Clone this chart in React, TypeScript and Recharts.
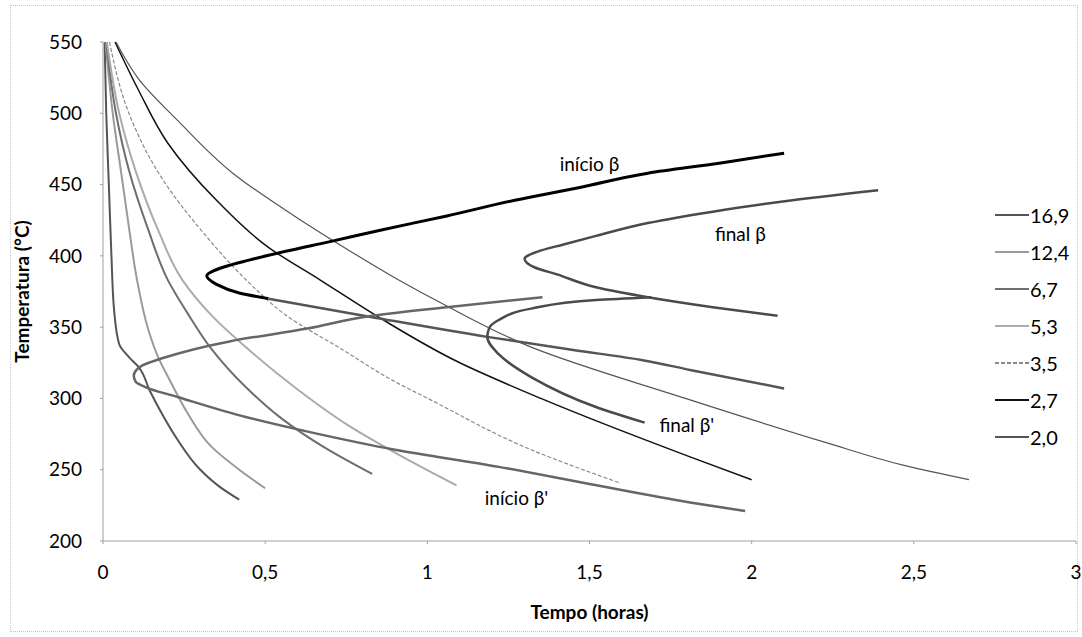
import { LineChart, Line, XAxis, YAxis, Legend, ReferenceDot } from "recharts";

// cooling curves, [time (h), temperature (°C)]
const cool169 = [[0.005, 550], [0.01, 500], [0.018, 450], [0.026, 400], [0.035, 360], [0.05, 338], [0.08, 329], [0.11, 322], [0.145, 305], [0.18, 290], [0.23, 271], [0.3, 250], [0.36, 238], [0.42, 229]];
const cool124 = [[0.008, 550], [0.03, 500], [0.055, 460], [0.08, 420], [0.105, 383], [0.14, 348], [0.17, 329], [0.21, 311], [0.26, 290], [0.335, 266], [0.42, 250], [0.5, 237]];
const cool67 = [[0.01, 550], [0.04, 500], [0.08, 460], [0.14, 418], [0.2, 383], [0.26, 360], [0.33, 336], [0.44, 308], [0.55, 286], [0.68, 266], [0.83, 247]];
const cool53 = [[0.012, 550], [0.05, 500], [0.1, 460], [0.17, 418], [0.245, 383], [0.34, 357], [0.44, 336], [0.59, 308], [0.75, 282], [0.9, 262], [1.09, 239]];
const cool35 = [[0.02, 550], [0.08, 500], [0.18, 455], [0.31, 416], [0.46, 379], [0.56, 359], [0.74, 334], [0.89, 313], [1.01, 299], [1.32, 264], [1.59, 241]];
const cool27 = [[0.037, 550], [0.11, 516], [0.2, 479], [0.35, 439], [0.51, 406], [0.67, 383], [0.85, 357], [1.1, 325], [1.35, 300], [1.81, 259], [2.0, 243]];
const cool20 = [[0.04, 550], [0.11, 524], [0.23, 495], [0.4, 458], [0.61, 425], [0.75, 405], [0.92, 382], [1.05, 366], [1.32, 336], [1.81, 299], [2.23, 269], [2.47, 253], [2.67, 243]];

// transformation curves
const inicioB = [[2.1, 472], [1.9, 465], [1.68, 458], [1.47, 448], [1.27, 439], [1.06, 428], [0.855, 418], [0.7, 410], [0.56, 403], [0.45, 397], [0.37, 392], [0.32, 386], [0.35, 380], [0.42, 374], [0.51, 370]];
const inicioBLower = [[0.51, 370], [0.83, 357], [1.19, 343], [1.45, 334], [1.66, 327], [1.81, 320], [2.1, 307]];
const finalB = [[2.39, 446], [2.09, 438], [1.88, 431], [1.68, 423], [1.52, 414], [1.42, 408], [1.34, 403], [1.3, 398], [1.33, 392], [1.4, 387], [1.52, 378], [1.68, 371], [1.88, 364], [2.08, 358]];
const finalBp = [[1.69, 371], [1.52, 369], [1.32, 363], [1.22, 355], [1.19, 349], [1.185, 343], [1.22, 331], [1.32, 315], [1.52, 294], [1.67, 283]];
const inicioBp = [[1.355, 371], [1.06, 364], [0.83, 358], [0.63, 349], [0.39, 340], [0.18, 328], [0.12, 323], [0.095, 316], [0.1, 312], [0.13, 308], [0.23, 301], [0.44, 287], [0.645, 276], [0.9, 264], [1.22, 252], [1.5, 240], [1.81, 227], [1.98, 221]];

const rateLabels = ["16,9", "12,4", "6,7", "5,3", "3,5", "2,7", "2,0"];
const xTicks = [0, 0.5, 1, 1.5, 2, 2.5, 3];
const yTicks = [200, 250, 300, 350, 400, 450, 500, 550];

const annotations = [
  { text: "início β", t: 1.5, T: 464 },
  { text: "final β", t: 1.965, T: 415 },
  { text: "final β'", t: 1.8, T: 281 },
  { text: "início β'", t: 1.275, T: 230 },
];

const pts = (a: number[][]) => a.map(([t, T]) => ({ t, T }));

const cooling = [
  { data: cool169, color: "#555", width: 2 },
  { data: cool124, color: "#9a9a9a", width: 2 },
  { data: cool67, color: "#6e6e6e", width: 2 },
  { data: cool53, color: "#ababab", width: 2 },
  { data: cool35, color: "#8a8a8a", width: 1.2, dash: "4 2" },
  { data: cool27, color: "#111", width: 1.5 },
  { data: cool20, color: "#555", width: 1.2 },
];

const transforms = [
  { data: inicioB, color: "#000", width: 3 },
  { data: inicioBLower, color: "#555", width: 2.5 },
  { data: finalB, color: "#4a4a4a", width: 2.5 },
  { data: finalBp, color: "#4a4a4a", width: 2.5 },
  { data: inicioBp, color: "#666", width: 2.5 },
];

const fmt = (v: number) => String(v).replace(".", ",");

function RateLegend({ payload }: any) {
  const items = (payload || [])
    .filter((p: any) => rateLabels.includes(p.value))
    .sort((a: any, b: any) => rateLabels.indexOf(a.value) - rateLabels.indexOf(b.value));
  return (
    <div style={{ display: "flex", flexDirection: "column" }}>
      {items.map((p: any) => (
        <div key={p.value} style={{ height: 37, display: "flex", alignItems: "center" }}>
          <svg width={34} height={6}>
            <line x1={0} y1={3} x2={34} y2={3} stroke={p.color} strokeWidth={2} strokeDasharray={p.payload?.strokeDasharray} />
          </svg>
          <span style={{ fontSize: 20, marginLeft: 1, color: "#000" }}>{p.value}</span>
        </div>
      ))}
    </div>
  );
}

export default function App() {
  return (
    <div style={{ position: "absolute", left: 0, top: 0, width: 1082, height: 637, background: "#fff", fontFamily: "Lato" }}>
      <div style={{ position: "absolute", left: 10, top: 5, width: 1066, height: 625, border: "1px dotted #c4c4c4" }} />
      <LineChart width={1082} height={637} margin={{ top: 42, right: 6, left: 10, bottom: 66 }}>
        <XAxis
          dataKey="t"
          type="number"
          domain={[0, 3]}
          ticks={xTicks}
          tickFormatter={fmt}
          tick={{ fontSize: 19, fill: "#000", fontFamily: "Lato" }}
          tickSize={3}
          tickMargin={22}
          height={30}
          axisLine={{ stroke: "#a0a0a0" }}
          tickLine={{ stroke: "#a0a0a0" }}
          label={{ value: "Tempo (horas)", position: "bottom", offset: 35, style: { fontSize: 19, fontWeight: "bold", fill: "#000", fontFamily: "Lato" } }}
        />
        <YAxis
          type="number"
          domain={[200, 550]}
          ticks={yTicks}
          tick={{ fontSize: 19, fill: "#000", fontFamily: "Lato" }}
          tickSize={3}
          tickMargin={18}
          width={93}
          axisLine={{ stroke: "#a0a0a0" }}
          tickLine={{ stroke: "#a0a0a0" }}
          label={{ value: "Temperatura (°C)", angle: -90, position: "insideLeft", offset: 12, style: { textAnchor: "middle", fontSize: 19, fontWeight: "bold", fill: "#000", fontFamily: "Lato" } }}
        />
        {cooling.map((s, i) => (
          <Line
            key={rateLabels[i]}
            name={rateLabels[i]}
            data={pts(s.data)}
            dataKey="T"
            type="monotoneY"
            stroke={s.color}
            strokeWidth={s.width}
            strokeDasharray={s.dash}
            dot={false}
            activeDot={false}
            legendType="plainline"
            isAnimationActive={false}
          />
        ))}
        {transforms.map((s, i) => (
          <Line
            key={"tr" + i}
            name={"tr" + i}
            data={pts(s.data)}
            dataKey="T"
            type="monotoneY"
            stroke={s.color}
            strokeWidth={s.width}
            dot={false}
            activeDot={false}
            legendType="none"
            isAnimationActive={false}
          />
        ))}
        {annotations.map((a) => (
          <ReferenceDot
            key={a.text}
            x={a.t}
            y={a.T}
            r={1}
            fill="none"
            stroke="none"
            label={{ value: a.text, position: "center", fontSize: 19, fill: "#000", fontFamily: "Lato" }}
          />
        ))}
        <Legend
          layout="vertical"
          align="center"
          verticalAlign="middle"
          wrapperStyle={{ left: 995, top: 196, width: 85 }}
          content={<RateLegend />}
        />
      </LineChart>
    </div>
  );
}
